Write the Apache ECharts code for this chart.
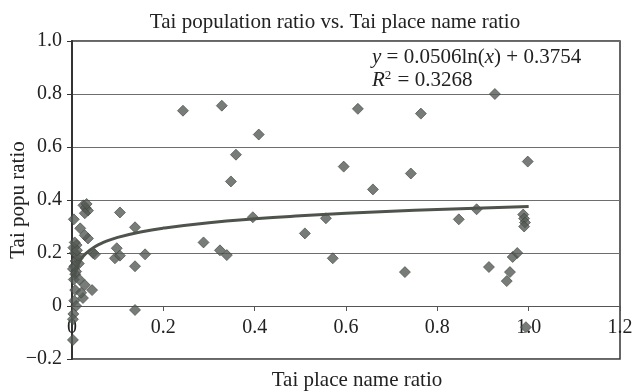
<!DOCTYPE html>
<html>
<head>
<meta charset="utf-8">
<script src="https://cdn.jsdelivr.net/npm/echarts@6/dist/echarts.min.js"></script>
<style>
html, body { margin: 0; padding: 0; background: #fff; }
#main { width: 633px; height: 391px; }
</style>
</head>
<body>
<div id="main"></div>
<script>
// place name ratio (x) / population ratio (y)
var placeRatio = [
  0.025, 0.030, 0.035, 0.028, 0.032, 0.004, 0.018, 0.035, 0.028, 0.046,
  0.010, 0.003, 0.006, 0.012, 0.008, 0.015, 0.005, 0.002, 0.009, 0.013,
  0.007, 0.004, 0.011, 0.006, 0.044, 0.028, 0.024, 0.007, 0.005, 0.009,
  0.003, 0.002, 0.002, 0.020, 0.016, 0.050,
  0.105, 0.138, 0.098, 0.094, 0.105, 0.160, 0.138, 0.138,
  0.243, 0.328, 0.359, 0.348, 0.409, 0.396, 0.339, 0.324, 0.288,
  0.510, 0.556, 0.571, 0.595, 0.626, 0.659, 0.729, 0.742, 0.764,
  0.847, 0.886, 0.913, 0.926, 0.952, 0.959, 0.965, 0.975,
  0.988, 0.990, 0.992, 0.990, 0.998, 0.994
];
var popuRatio = [
  0.380, 0.370, 0.360, 0.350, 0.385, 0.327, 0.293, 0.255, 0.267, 0.200,
  0.230, 0.220, 0.200, 0.180, 0.170, 0.160, 0.150, 0.140, 0.130, 0.190,
  0.120, 0.100, 0.210, 0.240, 0.060, 0.079, 0.030, 0.060, 0.020, 0.000,
  -0.030, -0.050, -0.128, 0.050, 0.100, 0.195,
  0.353, 0.297, 0.218, 0.180, 0.190, 0.195, 0.150, -0.015,
  0.737, 0.756, 0.571, 0.470, 0.647, 0.335, 0.192, 0.210, 0.240,
  0.274, 0.331, 0.180, 0.526, 0.744, 0.440, 0.128, 0.500, 0.726,
  0.327, 0.365, 0.147, 0.800, 0.094, 0.128, 0.185, 0.200,
  0.345, 0.330, 0.315, 0.300, 0.545, -0.080
];

// logarithmic trendline as printed on the chart: y = 0.0506ln(x) + 0.3754
var trendA = 0.0506;
var trendB = 0.3754;
var trendX = [0.005, 0.01, 0.02, 0.03, 0.05, 0.07, 0.1, 0.15, 0.2, 0.3, 0.4, 0.5, 0.6, 0.7, 0.8, 0.9, 1.0];

var xTicks = ['0', '0.2', '0.4', '0.6', '0.8', '1.0', '1.2'];
var yTicks = ['\u22120.2', '0', '0.2', '0.4', '0.6', '0.8', '1.0'];

var points = placeRatio.map(function (x, i) { return [x, popuRatio[i]]; });
var trend = trendX.map(function (x) { return [x, trendA * Math.log(x) + trendB]; });

var serif = 'Liberation Serif, Times New Roman, serif';
var chart = echarts.init(document.getElementById('main'));

chart.setOption({
  backgroundColor: '#fff',
  animation: false,
  title: {
    text: 'Tai population ratio vs. Tai place name ratio',
    left: 330,
    textAlign: 'center',
    top: 7,
    textStyle: { fontFamily: serif, fontSize: 21, fontWeight: 'normal', color: '#222' }
  },
  grid: {
    left: 72,
    right: 13,
    top: 41,
    bottom: 32,
    outerBoundsMode: 'none',
    containLabel: false,
    show: true,
    borderColor: '#333',
    borderWidth: 1.5
  },
  xAxis: {
    type: 'value',
    min: 0,
    max: 1.2,
    interval: 0.2,
    // horizontal axis crosses at y = 0 (one 0.2 step = 53px above the bottom)
    offset: -53,
    axisLine: { onZero: false, lineStyle: { color: '#555', width: 1 } },
    axisTick: { show: true, inside: false, length: 5, lineStyle: { color: '#555' } },
    axisLabel: {
      fontFamily: serif, fontSize: 20, color: '#222', margin: 12,
      formatter: function (v) { return xTicks[Math.round(v / 0.2)]; }
    },
    splitLine: { show: false }
  },
  yAxis: {
    type: 'value',
    min: -0.2,
    max: 1.0,
    interval: 0.2,
    axisLine: { show: true, onZero: false, lineStyle: { color: '#333', width: 2 } },
    axisTick: { show: true, inside: false, length: 5, lineStyle: { color: '#333' } },
    axisLabel: {
      fontFamily: serif, fontSize: 20, color: '#222', margin: 10,
      formatter: function (v) { return yTicks[Math.round((v + 0.2) / 0.2)]; }
    },
    splitLine: { show: true, lineStyle: { color: '#6e6e6e', width: 1 } }
  },
  graphic: [{
    type: 'text',
    left: 372,
    top: 46,
    style: {
      text: '{i|y} = 0.0506ln({i|x}) + 0.3754\n{i|R}{s|2} = 0.3268',
      fontFamily: serif,
      fontSize: 21,
      fill: '#222',
      lineHeight: 23,
      rich: {
        i: { fontFamily: serif, fontSize: 21, fontStyle: 'italic', fill: '#222', lineHeight: 23 },
        s: { fontFamily: serif, fontSize: 13, fill: '#222', verticalAlign: 'top', lineHeight: 23, padding: [0, 1, 8, 0] }
      }
    }
  }, {
    type: 'text',
    x: 357,
    y: 380,
    style: {
      text: 'Tai place name ratio',
      fontFamily: serif,
      fontSize: 21,
      fill: '#222',
      align: 'center',
      verticalAlign: 'middle'
    }
  }, {
    type: 'text',
    x: 18,
    y: 200,
    rotation: Math.PI / 2,
    style: {
      text: 'Tai popu ratio',
      fontFamily: serif,
      fontSize: 21,
      fill: '#222',
      align: 'center',
      verticalAlign: 'middle'
    }
  }],
  series: [{
    type: 'scatter',
    data: points,
    symbol: 'diamond',
    symbolSize: 11,
    itemStyle: { color: '#565b56', borderColor: '#404440', borderWidth: 0.8 },
    z: 3
  }, {
    type: 'line',
    data: trend,
    smooth: true,
    symbol: 'none',
    lineStyle: { color: '#4e534c', width: 3 },
    z: 4
  }]
});
</script>
</body>
</html>
